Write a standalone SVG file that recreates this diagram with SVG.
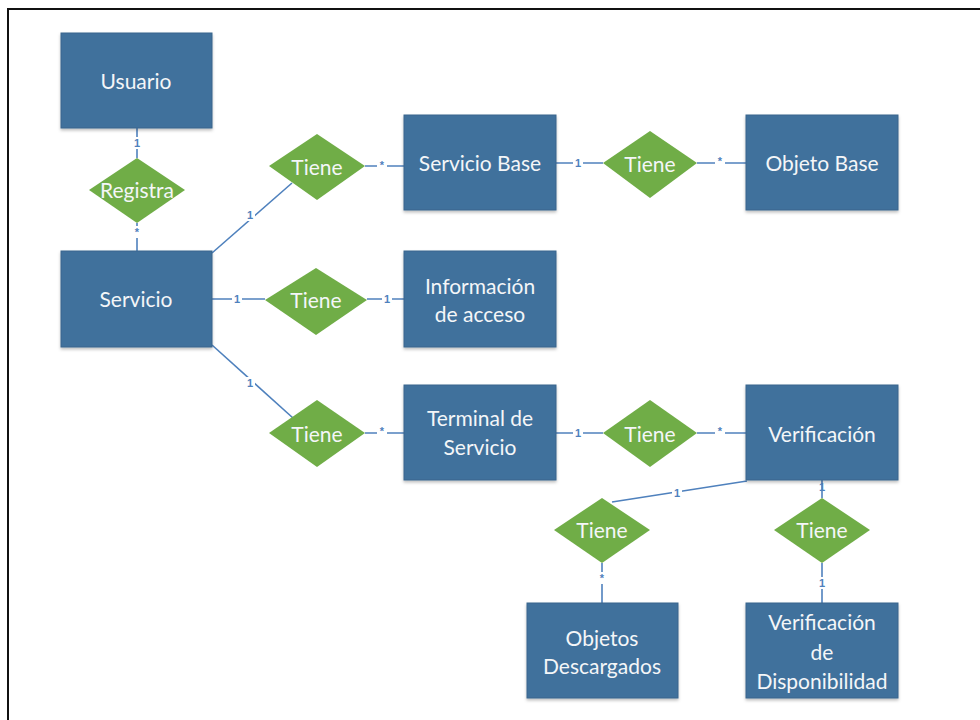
<svg xmlns="http://www.w3.org/2000/svg" width="980" height="720" viewBox="0 0 980 720">
  <defs>
    <filter id="shadow" x="-10%" y="-10%" width="120%" height="130%">
      <feDropShadow dx="0" dy="2" stdDeviation="1.5" flood-color="#000" flood-opacity="0.25"/>
    </filter>
    <style>
      .entity { fill: #41719c; stroke: #3a668d; stroke-width: 1; filter: url(#shadow); }
      .rel { fill: #70ad47; }
      .label { fill: #f4f6f8; font-family: Lato, "Open Sans", sans-serif; font-size: 21px; text-anchor: middle; dominant-baseline: central; }
      .conn { stroke: #4f81bd; stroke-width: 1.6; fill: none; }
      .card { fill: #4f81bd; font-family: "Liberation Sans", Arial, sans-serif; font-size: 11px; font-weight: bold; text-anchor: middle; dominant-baseline: central; }
      .gap { fill: #ffffff; }
    </style>
  </defs>

  <rect width="980" height="720" fill="#ffffff"/>
  <!-- page frame -->
  <rect x="8" y="9" width="1000" height="740" fill="none" stroke="#111" stroke-width="2"/>

  <!-- connectors -->
  <g id="connectors">
    <line class="conn" x1="137" y1="128" x2="137" y2="158"/>
    <line class="conn" x1="137" y1="223" x2="137" y2="251"/>
    <line class="conn" x1="212" y1="253" x2="292" y2="183"/>
    <line class="conn" x1="365" y1="166" x2="404" y2="166"/>
    <line class="conn" x1="212" y1="299" x2="265" y2="299"/>
    <line class="conn" x1="367" y1="299" x2="404" y2="299"/>
    <line class="conn" x1="212" y1="345" x2="293" y2="418"/>
    <line class="conn" x1="365" y1="433" x2="404" y2="433"/>
    <line class="conn" x1="556" y1="163" x2="603" y2="163"/>
    <line class="conn" x1="697" y1="163" x2="746" y2="163"/>
    <line class="conn" x1="556" y1="433" x2="603" y2="433"/>
    <line class="conn" x1="697" y1="433" x2="746" y2="433"/>
    <line class="conn" x1="747" y1="481" x2="612" y2="502"/>
    <line class="conn" x1="602" y1="563" x2="602" y2="603"/>
    <line class="conn" x1="822" y1="480" x2="822" y2="498"/>
    <line class="conn" x1="822" y1="563" x2="822" y2="603"/>

    <!-- cardinality labels -->
    <rect class="gap" x="132" y="137" width="10" height="12"/><text class="card" x="137" y="143">1</text>
    <rect class="gap" x="132" y="226" width="10" height="12"/><text class="card" x="137" y="232">*</text>
    <rect class="gap" x="245" y="209" width="10" height="12"/><text class="card" x="250" y="215">1</text>
    <rect class="gap" x="377" y="160" width="10" height="12"/><text class="card" x="382" y="165">*</text>
    <rect class="gap" x="232" y="293" width="10" height="12"/><text class="card" x="237" y="299">1</text>
    <rect class="gap" x="382" y="293" width="10" height="12"/><text class="card" x="387" y="299">1</text>
    <rect class="gap" x="245" y="377" width="10" height="12"/><text class="card" x="250" y="383">1</text>
    <rect class="gap" x="377" y="427" width="10" height="12"/><text class="card" x="382" y="431">*</text>
    <rect class="gap" x="573" y="157" width="10" height="12"/><text class="card" x="578" y="163">1</text>
    <rect class="gap" x="715" y="157" width="10" height="12"/><text class="card" x="720" y="161">*</text>
    <rect class="gap" x="573" y="427" width="10" height="12"/><text class="card" x="578" y="433">1</text>
    <rect class="gap" x="715" y="427" width="10" height="12"/><text class="card" x="720" y="431">*</text>
    <rect class="gap" x="672" y="487" width="10" height="12"/><text class="card" x="677" y="493">1</text>
    <rect class="gap" x="597" y="572" width="10" height="12"/><text class="card" x="602" y="578">*</text>
    <text class="card" x="822" y="487">1</text>
    <rect class="gap" x="817" y="577" width="10" height="12"/><text class="card" x="822" y="583">1</text>
  </g>

  <!-- entities -->
  <g id="usuario">
    <rect class="entity" x="61" y="33" width="151" height="95"/>
    <text class="label" x="136" y="80">Usuario</text>
  </g>
  <g id="servicio">
    <rect class="entity" x="61" y="251" width="151" height="96"/>
    <text class="label" x="136" y="298">Servicio</text>
  </g>
  <g id="servicio-base">
    <rect class="entity" x="404" y="115" width="152" height="95"/>
    <text class="label" x="480" y="162">Servicio Base</text>
  </g>
  <g id="objeto-base">
    <rect class="entity" x="746" y="115" width="152" height="95"/>
    <text class="label" x="822" y="162">Objeto Base</text>
  </g>
  <g id="informacion-acceso">
    <rect class="entity" x="404" y="251" width="152" height="96"/>
    <text class="label" x="480" y="285">Información</text>
    <text class="label" x="480" y="313">de acceso</text>
  </g>
  <g id="terminal-servicio">
    <rect class="entity" x="404" y="385" width="152" height="95"/>
    <text class="label" x="480" y="417">Terminal de</text>
    <text class="label" x="480" y="446">Servicio</text>
  </g>
  <g id="verificacion">
    <rect class="entity" x="746" y="385" width="152" height="95"/>
    <text class="label" x="822" y="433">Verificación</text>
  </g>
  <g id="objetos-descargados">
    <rect class="entity" x="527" y="603" width="151" height="95"/>
    <text class="label" x="602" y="637">Objetos</text>
    <text class="label" x="602" y="665">Descargados</text>
  </g>
  <g id="verificacion-disponibilidad">
    <rect class="entity" x="746" y="603" width="152" height="95"/>
    <text class="label" x="822" y="621">Verificación</text>
    <text class="label" x="822" y="651">de</text>
    <text class="label" x="822" y="680">Disponibilidad</text>
  </g>

  <!-- relationships -->
  <g id="rel-registra">
    <polygon class="rel" points="137,158 185,190 137,223 89,190"/>
    <text class="label" x="137" y="189">Registra</text>
  </g>
  <g id="rel-tiene-servicio-base">
    <polygon class="rel" points="317,134 365,166 317,200 269,166"/>
    <text class="label" x="317" y="166">Tiene</text>
  </g>
  <g id="rel-tiene-informacion">
    <polygon class="rel" points="316,268 367,300 316,335 265,300"/>
    <text class="label" x="316" y="299">Tiene</text>
  </g>
  <g id="rel-tiene-terminal">
    <polygon class="rel" points="317,400 365,433 317,467 269,433"/>
    <text class="label" x="317" y="433">Tiene</text>
  </g>
  <g id="rel-tiene-objeto-base">
    <polygon class="rel" points="650,131 697,163 650,198 603,163"/>
    <text class="label" x="650" y="163">Tiene</text>
  </g>
  <g id="rel-tiene-verificacion">
    <polygon class="rel" points="650,400 697,433 650,467 603,433"/>
    <text class="label" x="650" y="433">Tiene</text>
  </g>
  <g id="rel-tiene-objetos">
    <polygon class="rel" points="602,498 650,530 602,563 554,530"/>
    <text class="label" x="602" y="529">Tiene</text>
  </g>
  <g id="rel-tiene-disponibilidad">
    <polygon class="rel" points="822,498 870,530 822,563 774,530"/>
    <text class="label" x="822" y="529">Tiene</text>
  </g>
</svg>
